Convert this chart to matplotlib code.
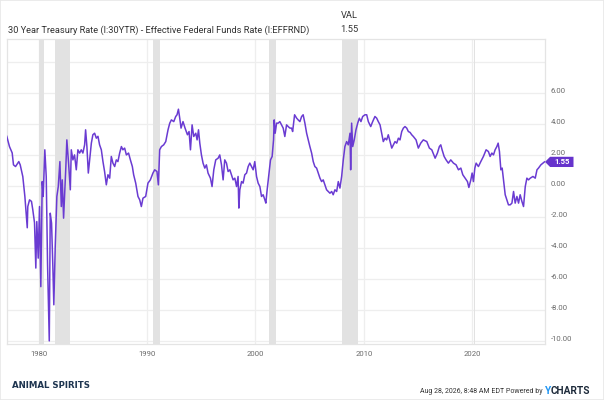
import matplotlib
matplotlib.use("Agg")
import matplotlib.pyplot as plt
from matplotlib.patches import Polygon, Rectangle

plt.rcParams['font.family'] = ['Roboto', 'DejaVu Sans']

# spread = 30yr treasury minus effective fed funds
years = [1977.07, 1977.32, 1977.57, 1977.69, 1977.88, 1978.18, 1978.31, 1978.55, 1978.74, 1978.96,
         1979.01, 1979.17, 1979.35, 1979.47, 1979.63, 1979.75, 1979.84, 1979.97, 1980.09, 1980.21,
         1980.34, 1980.43, 1980.58, 1980.71, 1980.83, 1980.99, 1981.08, 1981.2, 1981.32, 1981.41,
         1981.54, 1981.69, 1981.82, 1981.97, 1982.1, 1982.19, 1982.31, 1982.43, 1982.52, 1982.61,
         1982.77, 1982.93, 1983.02, 1983.17, 1983.32, 1983.48, 1983.63, 1983.79, 1983.94, 1984.09,
         1984.25, 1984.34, 1984.46, 1984.59, 1984.71, 1984.87, 1985.01, 1985.17, 1985.33, 1985.48,
         1985.63, 1985.79, 1985.94, 1986.09, 1986.25, 1986.4, 1986.56, 1986.71, 1986.86, 1987.02,
         1987.17, 1987.32, 1987.48, 1987.64, 1987.78, 1987.94, 1988.1, 1988.3, 1988.47, 1988.65,
         1988.77, 1988.96, 1989.17, 1989.33, 1989.48, 1989.63, 1989.88, 1990.09, 1990.31, 1990.55,
         1990.71, 1990.92, 1991.05, 1991.17, 1991.33, 1991.54, 1991.73, 1991.94, 1992.1, 1992.25,
         1992.47, 1992.65, 1992.77, 1992.9, 1993.02, 1993.14, 1993.32, 1993.51, 1993.73, 1993.88,
         1994.01, 1994.16, 1994.31, 1994.5, 1994.62, 1994.75, 1994.87, 1995.02, 1995.17, 1995.33,
         1995.48, 1995.63, 1995.85, 1996.0, 1996.16, 1996.34, 1996.56, 1996.71, 1996.87, 1997.02,
         1997.17, 1997.33, 1997.48, 1997.64, 1997.79, 1997.94, 1998.1, 1998.26, 1998.4, 1998.47,
         1998.56, 1998.72, 1998.86, 1999.02, 1999.18, 1999.33, 1999.48, 1999.64, 1999.79, 1999.94,
         2000.1, 2000.25, 2000.41, 2000.56, 2000.71, 2000.87, 2000.96, 2001.08, 2001.24, 2001.39,
         2001.54, 2001.67, 2001.73, 2001.82, 2001.95, 2002.1, 2002.25, 2002.41, 2002.56, 2002.71,
         2002.87, 2003.02, 2003.18, 2003.33, 2003.43, 2003.61, 2003.8, 2003.94, 2004.1, 2004.26,
         2004.4, 2004.56, 2004.72, 2004.87, 2005.02, 2005.18, 2005.33, 2005.48, 2005.64, 2005.79,
         2005.95, 2006.1, 2006.25, 2006.41, 2006.56, 2006.71, 2006.87, 2007.03, 2007.17, 2007.33,
         2007.49, 2007.64, 2007.79, 2007.95, 2008.1, 2008.25, 2008.41, 2008.56, 2008.72, 2008.78,
         2008.87, 2008.97, 2009.11, 2009.27, 2009.43, 2009.58, 2009.73, 2009.89, 2010.1, 2010.26,
         2010.41, 2010.63, 2010.81, 2011.02, 2011.18, 2011.33, 2011.49, 2011.64, 2011.79, 2011.95,
         2012.1, 2012.25, 2012.41, 2012.57, 2012.72, 2012.87, 2013.03, 2013.18, 2013.33, 2013.49,
         2013.64, 2013.79, 2013.95, 2014.1, 2014.26, 2014.41, 2014.56, 2014.81, 2015.02, 2015.24,
         2015.48, 2015.8, 2016.04, 2016.26, 2016.57, 2016.78, 2016.96, 2017.09, 2017.21, 2017.4,
         2017.58, 2017.79, 2018.01, 2018.26, 2018.5, 2018.72, 2018.94, 2019.12, 2019.34, 2019.55,
         2019.68, 2019.86, 2019.98, 2020.1, 2020.23, 2020.35, 2020.56, 2020.78, 2021.02, 2021.27,
         2021.48, 2021.64, 2021.8, 2021.95, 2022.1, 2022.26, 2022.38, 2022.5, 2022.63, 2022.75,
         2022.87, 2023.03, 2023.18, 2023.33, 2023.49, 2023.65, 2023.8, 2023.95, 2024.11, 2024.26,
         2024.41, 2024.57, 2024.72, 2024.88, 2025.03, 2025.18, 2025.34, 2025.59, 2025.8, 2025.96,
         2026.1, 2026.32, 2026.51, 2026.65]
spread = [3.2, 2.54, 2.13, 1.36, 1.25, 1.57, 1.36, 0.6, -0.68, -2.7,
          -1.33, -0.9, -1.0, -1.54, -2.38, -5.3, -2.3, -4.66, -1.33, -6.5,
          0.28, -0.68, 2.33, 0.6, -5.0, -10.0, -1.76, -2.4, -5.2, -7.67,
          -3.9, -0.68, -0.04, 1.57, -1.33, 0.39, -2.08, -0.25, 1.25, 2.97,
          1.47, -0.25, 2.33, 1.68, 2.0, 1.04, 2.33, 2.12, 2.33, 2.12,
          2.65, 3.62, 2.54, 0.83, 1.68, 2.76, 3.3, 3.4, 3.08, 3.2,
          2.65, 2.33, 1.57, 0.93, 0.07, 0.72, 0.5, 1.9, 1.47, 1.25,
          1.68, 1.57, 2.12, 2.54, 2.33, 2.44, 2.0, 2.12, 1.68, 1.25,
          0.72, 0.18, -0.68, -0.9, -1.33, -0.79, -0.68, 0.18, 0.39, 0.83,
          1.04, 0.93, 0.07, 2.33, 2.54, 2.65, 2.86, 3.62, 4.05, 4.26,
          4.15, 4.48, 4.59, 4.95, 4.37, 3.73, 4.15, 3.73, 3.3, 3.51,
          2.33, 3.94, 3.19, 3.4, 2.97, 3.62, 2.76, 2.0, 1.47, 1.15,
          1.36, 0.83, 0.5, -0.04, 1.04, 1.68, 1.79, 2.0, 1.36, 0.39,
          1.68, 1.47, 0.93, 1.04, 0.72, 0.39, 0.5, -0.04, 0.61, -1.43,
          -0.25, 0.28, 0.18, 0.72, 0.83, 1.25, 1.47, 1.25, 1.04, 1.57,
          0.61, 0.18, -0.04, -0.68, -0.57, -0.9, -1.11, -0.25, 0.72, 1.68,
          1.9, 2.97, 4.26, 3.4, 4.05, 4.05, 4.15, 3.94, 3.73, 3.19,
          3.94, 3.83, 3.73, 3.73, 3.51, 4.59, 4.37, 4.26, 4.15, 4.48,
          4.59, 4.05, 3.4, 2.97, 2.54, 2.12, 1.57, 1.25, 1.15, 0.83,
          0.5, 0.28, 0.39, 0.07, -0.25, -0.36, -0.47, -0.36, -0.57, -0.25,
          -0.36, 0.28, -0.14, 0.61, 1.68, 2.54, 2.86, 2.65, 3.4, 1.04,
          4.05, 2.54, 2.97, 3.62, 4.05, 4.37, 4.15, 4.48, 4.59, 4.59,
          4.15, 3.83, 4.15, 4.48, 4.37, 4.15, 3.94, 3.4, 2.86, 3.08,
          2.97, 3.3, 2.86, 2.44, 2.65, 2.86, 2.76, 3.08, 2.97, 3.51,
          3.73, 3.83, 3.73, 3.51, 3.45, 3.3, 3.19, 2.97, 2.44, 2.76,
          2.97, 2.86, 2.44, 2.33, 1.79, 2.12, 2.54, 2.65, 2.33, 1.9,
          1.68, 1.47, 1.68, 1.47, 1.36, 1.04, 1.15, 0.72, 0.5, 0.28,
          -0.1, 0.39, 0.83, 0.28, 1.15, 1.47, 1.25, 1.57, 1.9, 2.33,
          2.22, 1.9, 2.12, 2.0, 2.33, 2.54, 2.76, 2.22, 1.04, 1.15,
          0.39, -0.57, -0.9, -1.22, -1.22, -1.11, -0.36, -1.11, -0.68, -1.11,
          -0.57, -1.0, -1.33, -0.04, 0.5, 0.39, 0.5, 0.61, 0.5, 1.04,
          1.15, 1.36, 1.47, 1.55]

recession_start = [1980.0, 1981.54, 1990.54, 2001.21, 2007.96, 2020.12]
recession_end = [1980.54, 1982.87, 1991.21, 2001.87, 2009.46, 2020.29]

x_ticks = [1980, 1990, 2000, 2010, 2020]
x_labels = ['1980', '1990', '2000', '2010', '2020']
y_ticks = [-10, -8, -6, -4, -2, 0, 2, 4, 6, 8]
y_labels = ['-10.00', '-8.00', '-6.00', '-4.00', '-2.00', '0.00', '2.00', '4.00', '6.00', '']

series_name = "30 Year Treasury Rate (I:30YTR) - Effective Federal Funds Rate (I:EFFRND)"
last_val = spread[-1]

purple = '#6a3bd2'

fig = plt.figure(figsize=(6.04, 4.0), dpi=100)
fig.patches.append(Rectangle((0, 0), 1, 1, transform=fig.transFigure, fill=False,
                             ec='#e8e8e8', lw=1.2))
ax = fig.add_axes([7.3 / 604, 56 / 400, (545 - 7.3) / 604, (344 - 39.3) / 400])

for s, e in zip(recession_start, recession_end):
    ax.axvspan(s, e, color='#e2e2e2', lw=0, zorder=1)

ax.plot(years, spread, color=purple, lw=1.1, zorder=3)

ax.set_xlim(1977.12, 2026.7)
ax.set_ylim(-10.2, 9.46)
ax.set_xticks(x_ticks)
ax.set_xticklabels(x_labels)
ax.set_yticks(y_ticks)
ax.set_yticklabels(y_labels)
ax.yaxis.tick_right()
ax.grid(True, color='#eeeeee', lw=0.9, zorder=0)
ax.set_axisbelow(True)
ax.tick_params(axis='both', length=0, labelsize=5.6, labelcolor='#6b6b6b')
ax.tick_params(axis='x', pad=5)
ax.tick_params(axis='y', pad=4)
for lab in ax.get_yticklabels():
    lab.set_va('baseline')
for sp in ax.spines.values():
    sp.set_color('#e4e4e4')
    sp.set_linewidth(0.9)

# value badge at the end of the line
tr = ax.get_yaxis_transform()
h = 0.33
badge = Polygon([(1.0, last_val), (1.0095, last_val + h), (1.053, last_val + h),
                 (1.053, last_val - h), (1.0095, last_val - h)],
                closed=True, transform=tr, fc='#6633cc', ec='none', clip_on=False, zorder=5)
ax.add_patch(badge)
ax.text(1.031, last_val, '%.2f' % last_val, transform=tr, ha='center', va='center',
        color='white', fontsize=5.6, fontweight='bold', zorder=6)

# header
fig.text(8 / 604, 1 - 30 / 400, series_name, fontsize=6.7, color='#333333', va='center')
fig.text(358 / 604, 1 - 15 / 400, 'VAL', fontsize=6.7, color='#333333', va='center', ha='right')
fig.text(358 / 604, 1 - 30 / 400, '%.2f' % last_val, fontsize=6.7, color='#333333',
         va='center', ha='right')

# footer
fig.text(12 / 604, 1 - 385 / 400, 'ANIMAL SPIRITS', fontsize=6.2,
         family=['Liberation Sans Narrow', 'DejaVu Sans'], fontweight='bold',
         color='#1e3550', va='center')
fig.text(543 / 604, 1 - 391.5 / 400, 'Aug 28, 2026, 8:48 AM EDT Powered by', fontsize=5.0,
         color='#333333', va='center', ha='right')
fig.text(545 / 604, 1 - 391 / 400, 'Y', fontsize=7.3, fontweight='bold', color='#2196f3', va='center')
fig.text(551 / 604, 1 - 391 / 400, 'CHARTS', fontsize=7.3, fontweight='bold', color='#1d2a3a',
         va='center')

fig.savefig('out.png', dpi=100)
